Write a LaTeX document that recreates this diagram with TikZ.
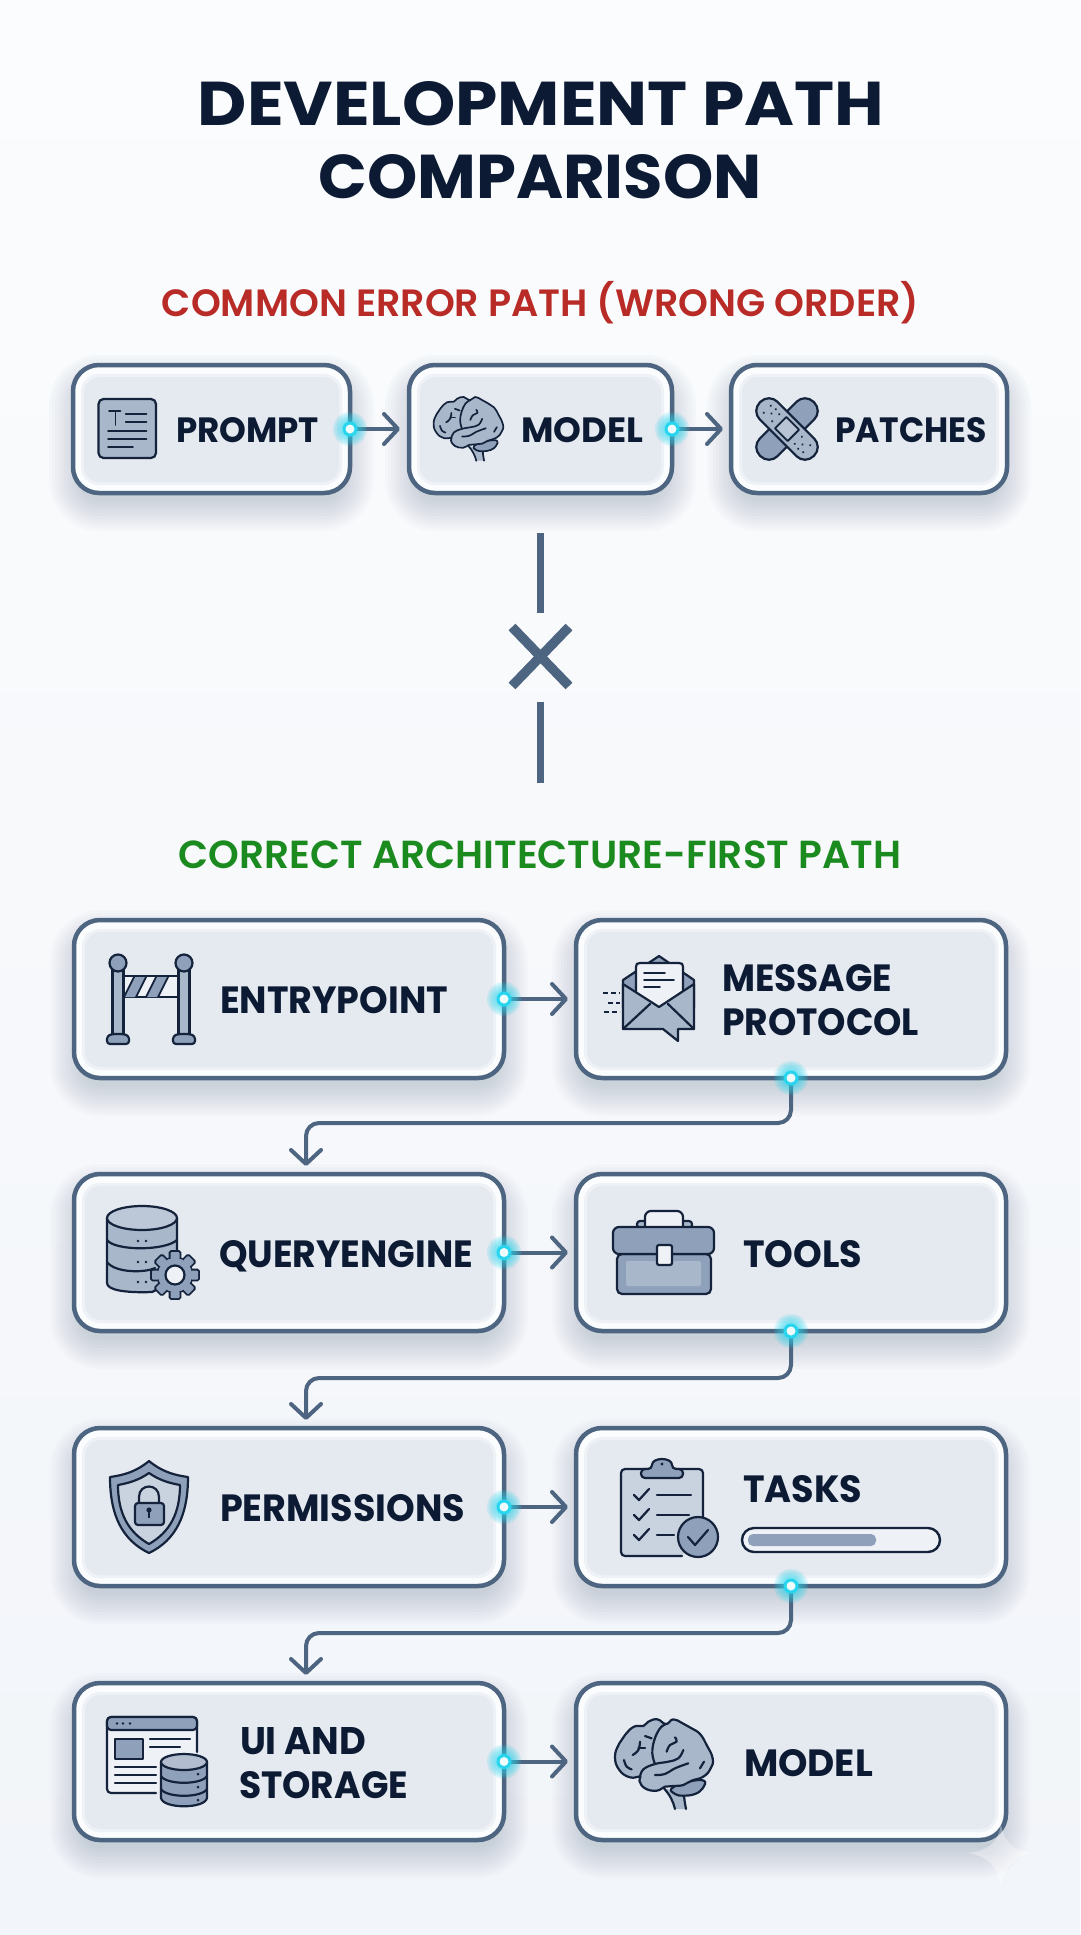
\documentclass[tikz,border=0pt]{standalone}
\usepackage{fontspec}
\usepackage{graphicx}
\setmainfont{Poppins}
\newfontfamily\semi{Poppins}[UprightFont=* SemiBold]
\usetikzlibrary{arrows.meta,calc}
\definecolor{edgec}{HTML}{4D6580}
\definecolor{ink}{HTML}{14233B}
\definecolor{navy}{HTML}{0C1B33}
\definecolor{iconA}{HTML}{8FA1BA}
\definecolor{iconB}{HTML}{A9B7CB}
\definecolor{iconC}{HTML}{C9D2DF}
\definecolor{ringc}{HTML}{FAFCFE}
\definecolor{panelc}{HTML}{E5E9F0}
\definecolor{panelm}{HTML}{EEF1F6}
\definecolor{glowc}{HTML}{27D6EE}
\definecolor{redt}{HTML}{B92B27}
\definecolor{greent}{HTML}{1B8A1F}
\definecolor{bgtop}{HTML}{FBFCFD}
\definecolor{bgmid}{HTML}{FEFEFF}
\definecolor{bgbot}{HTML}{F2F5F9}
\tikzset{
  card/.style={draw=edgec,line width=4.5pt,fill=ringc,rounded corners=26pt,inner sep=0pt,outer sep=0pt},
  lab/.style={inner sep=0pt,outer sep=0pt,text=navy,font=\bfseries,anchor=base west},
  ttl/.style={inner sep=0pt,outer sep=0pt,text=navy,font=\bfseries,anchor=base},
  hd/.style={inner sep=0pt,outer sep=0pt,font=\semi,anchor=base},
  conn/.style={draw=edgec,line width=4pt,rounded corners=13pt,-{Straight Barb[round,length=14pt,width=30pt,line width=4pt]}},
  ic/.style={draw=ink,line width=2.2pt,line join=round,line cap=round},
  icthin/.style={ic,line width=1.8pt},
  xline/.style={draw=edgec,line width=7pt},
  xcross/.style={draw=edgec,line width=9.5pt},
}
\newcommand{\fitw}[2]{\resizebox{#1pt}{!}{#2}}
\newcommand{\fitwh}[3]{\resizebox{#1pt}{#2pt}{#3}}
\newcommand{\cardbox}[5]{%
  \pgfmathsetmacro\cw{#4-#2}\pgfmathsetmacro\ch{#5-#3}%
  \pgfmathsetmacro\cx{(#2+#4)/2}\pgfmathsetmacro\cy{(#3+#5)/2}%
  \foreach \s in {24,21,...,-6}{%
    \pgfmathsetmacro\rr{26+\s}%
    \fill[edgec,opacity=.022,rounded corners=\rr pt] (#2-\s,#3+14-\s) rectangle (#4+\s,#5+14+\s);}%
  \node[card,minimum width=\cw pt,minimum height=\ch pt] (#1) at (\cx,\cy) {};
  \fill[panelm,rounded corners=18pt] (#2+8,#3+9) rectangle (#4-8,#5-8);
  \fill[panelc,rounded corners=16pt] (#2+11,#3+12) rectangle (#4-11,#5-11);
}
\newcommand{\glowdot}[1]{%
  \foreach \r in {17,15,13,11,9}{\fill[glowc,opacity=.16] (#1) circle (\r pt);}%
  \fill[glowc] (#1) circle (7.5pt);
  \fill[white!92!glowc] (#1) circle (4.5pt);
}
\newcommand{\brainicon}[4]{% x y scale linewidth
 \begin{scope}[shift={(#1,#2)},x=#3pt,y=-#3pt]
  \path[fill=iconB] (312,385) .. controls (330,405) and (340,425) .. (345,447) -- (378,447) .. controls (375,430) and (372,415) .. (372,400) -- cycle;
  \draw[ic,line width=#4pt] (312,385) .. controls (330,405) and (340,425) .. (345,447);
  \draw[ic,line width=#4pt] (378,447) .. controls (375,430) and (372,415) .. (372,400);
  \draw[ic,line width=#4pt,fill=iconA] plot[smooth cycle,tension=.7] coordinates {(335,385)(385,365)(432,362)(428,385)(405,402)(370,407)(345,402)};
  \draw[ic,line width=#4pt,fill=iconB] plot[smooth cycle,tension=.8] coordinates {(318,192)(340,178)(368,190)(395,205)(420,222)(440,255)(458,295)(452,325)(430,350)(395,362)(370,375)(340,378)(315,380)(290,392)(255,385)(238,362)(240,350)(210,352)(178,330)(165,290)(178,250)(195,225)(222,200)(250,198)(265,185)(292,178)};
  \draw[ic,line width=#4pt] plot[smooth,tension=.7] coordinates {(318,192)(300,205)(283,240)(277,280)(285,312)};
  \draw[ic,line width=#4pt] plot[smooth,tension=.7] coordinates {(240,352)(250,328)(285,312)(325,305)(355,295)(370,270)};
  \draw[ic,line width=#4pt] plot[smooth,tension=.7] coordinates {(285,345)(315,342)(345,325)(385,310)};
  \draw[ic,line width=#4pt] plot[smooth,tension=.7] coordinates {(345,232)(350,245)(330,255)(320,275)};
  \draw[ic,line width=#4pt] plot[smooth,tension=.7] coordinates {(240,245)(235,270)(218,285)};
  \draw[ic,line width=#4pt] (235,265) -- (255,265);
  \draw[ic,line width=#4pt] (255,228) -- (275,235);
  \draw[ic,line width=#4pt] plot[smooth,tension=.7] coordinates {(192,300)(200,320)(215,328)};
  \draw[ic,line width=#4pt] (420,325) -- (432,305);
 \end{scope}}
\begin{document}
\begin{tikzpicture}[x=1pt,y=-1pt]
\useasboundingbox (0,0) rectangle (1080,1935);
\shade[top color=bgtop,middle color=bgmid,bottom color=bgbot] (0,0) rectangle (1080,1935);

% titles
\node[ttl] (title1) at (541,125) {\fitwh{686}{44}{DEVELOPMENT PATH}};
\node[ttl] (title2) at (540,198) {\fitwh{443}{44}{COMPARISON}};
\node[hd,text=redt] (head1) at (540.5,316) {\fitw{757}{COMMON ERROR PATH (WRONG ORDER)}};
\node[hd,text=greent] (head2) at (540,868) {\fitw{722}{CORRECT ARCHITECTURE-FIRST PATH}};

% cards
\cardbox{prompt}{73}{365}{350}{493}
\cardbox{modela}{409}{365}{672}{493}
\cardbox{patches}{731}{365}{1007}{493}
\cardbox{entry}{74}{920}{504}{1078}
\cardbox{msg}{576}{920}{1006}{1078}
\cardbox{query}{74}{1174}{504}{1331}
\cardbox{tools}{576}{1174}{1006}{1331}
\cardbox{perm}{74}{1428}{504}{1586}
\cardbox{tasks}{576}{1428}{1006}{1586}
\cardbox{uist}{74}{1683}{504}{1840}
\cardbox{modelb}{576}{1683}{1006}{1840}

% entry coordinates for the bent connectors
\coordinate (queryin) at (306,1174);
\coordinate (permin) at (306,1428);
\coordinate (uiin) at (306,1683);

% connectors
\draw[conn,shorten >=9pt] (prompt.east) -- (modela.west);
\draw[conn,shorten >=8pt] (modela.east) -- (patches.west);
\draw[conn,shorten >=8pt] (entry.east) -- (msg.west);
\draw[conn,shorten >=8pt] (query.east) -- (tools.west);
\draw[conn,shorten >=8pt] (perm.east) -- (tasks.west);
\draw[conn,shorten >=8pt] (uist.east) -- (modelb.west);
\draw[conn,shorten >=8pt] (msg.south) -- ++(0,45) -| (queryin);
\draw[conn,shorten >=8pt] (tools.south) -- ++(0,47) -| (permin);
\draw[conn,shorten >=8pt] (tasks.south) -- ++(0,47) -| (uiin);

\glowdot{prompt.east}\glowdot{modela.east}\glowdot{entry.east}\glowdot{query.east}
\glowdot{perm.east}\glowdot{uist.east}\glowdot{msg.south}\glowdot{tools.south}\glowdot{tasks.south}

% X separator
\coordinate (xa) at (540,533); \coordinate (xb) at (540,613);
\coordinate (xc) at (540,702); \coordinate (xd) at (540,783);
\draw[xline] (xa) -- (xb);
\draw[xline] (xc) -- (xd);
\draw[xcross] (512,627) -- (569,686);
\draw[xcross] (569,627) -- (512,686);

% labels
\node[lab] (lprompt) at (176,442) {\fitwh{143}{25}{PROMPT}};
\node[lab] (lmodela) at (521,442) {\fitwh{122}{25}{MODEL}};
\node[lab] (lpatches) at (835,442) {\fitwh{152}{25}{PATCHES}};
\node[lab] (lentry) at (220,1013) {\fitwh{228}{27}{ENTRYPOINT}};
\node[lab] (lmsg1) at (722,991) {\fitwh{170}{27}{MESSAGE}};
\node[lab] (lmsg2) at (722,1035) {\fitwh{197}{27}{PROTOCOL}};
\node[lab] (lquery) at (219,1267) {\fitwh{254}{27}{QUERYENGINE}};
\node[lab] (ltools) at (743,1267) {\fitwh{119}{27}{TOOLS}};
\node[lab] (lperm) at (220,1521) {\fitwh{245}{27}{PERMISSIONS}};
\node[lab] (ltasks) at (743,1502) {\fitwh{119}{27}{TASKS}};
\node[lab] (lui1) at (240,1754) {\fitwh{126}{27}{UI AND}};
\node[lab] (lui2) at (239,1798) {\fitwh{169}{27}{STORAGE}};
\node[lab] (lmodelb) at (744,1776) {\fitwh{129}{27}{MODEL}};

% progress bar
\draw[ink,line width=2.4pt,fill=panelm,rounded corners=12pt] (742,1528) rectangle (940,1552);
\fill[iconA,rounded corners=5pt] (748,1534) rectangle (876,1546);

% icon: prompt
\draw[ic,fill=iconB,rounded corners=5pt] (98.5,399) rectangle (156,458);
\draw[icthin] (109,411) -- (120.5,411) (115.4,411) -- (115.4,425);
\draw[icthin] (125.7,414) -- (146.4,414) (125.7,422) -- (146.4,422) (108,431) -- (146.4,431) (108,439) -- (146.4,439) (108,447) -- (133,447);

% icon: brains
\brainicon{394.5}{354.8}{0.237}{1.7}
\brainicon{560}{1660}{0.3333}{2.2}

% icon: bandage
\begin{scope}[shift={(787,429)},rotate=45]
  \draw[ic,fill=iconA,rounded corners=12pt] (-38,-12.5) rectangle (38,12.5);
\end{scope}
\begin{scope}[shift={(787,429)},rotate=-45]
  \draw[ic,fill=iconB,rounded corners=12pt] (-38,-12.5) rectangle (38,12.5);
  \draw[icthin,fill=iconC!70!iconA] (-9,-8) rectangle (9,8);
  \foreach \a/\b in {-28/-5,-22/0,-16/5,-28/5,-16/-5,-22/-6,22/0,16/5,28/5,16/-5,28/-5,22/6}{\fill[ink] (\a,\b) circle (1.2pt);}
\end{scope}

% icon: barrier
\foreach \xx in {118,184}{
  \draw[ic,fill=iconB] (\xx-5.5,970) rectangle (\xx+5.5,1036);
  \draw[ic,fill=iconA] (\xx,963) circle (8.5pt);
  \draw[ic,fill=iconA,rounded corners=3pt] (\xx-11,1044) -- (\xx-11,1036) -- (\xx-6,1034) -- (\xx+6,1034) -- (\xx+11,1036) -- (\xx+11,1044) -- cycle;
}
\draw[ic,fill=panelm] (124,976) rectangle (178,997);
\fill[iconA] (124,997) -- (134,977) -- (146,977) -- (136,997) -- cycle;
\fill[iconA] (146,997) -- (156,977) -- (168,977) -- (158,997) -- cycle;
\draw[icthin] (124,997) -- (134,977) (136,997) -- (146,977) (146,997) -- (156,977) (158,997) -- (168,977);

% icon: envelope
\draw[ic,fill=iconA] (623,980) -- (659,956) -- (694,980) -- (694,1008) -- (623,1008) -- cycle;
\draw[ic,fill=panelm] (636,1010) -- (636,967) .. controls (636,964) and (637,963) .. (640,963) -- (679,963) .. controls (682,963) and (683,964) .. (683,967) -- (683,1010) -- cycle;
\draw[icthin] (644,973) -- (665,973) (644,980) -- (674,980) (644,987) -- (660,987);
\draw[ic,fill=iconB] (623,984) -- (659,1007) -- (694,984) -- (694,1029) -- (678,1029) -- (678,1041) -- (663,1029) -- (623,1029) -- cycle;
\draw[ic] (623,1029) -- (650,1004) (694,1029) -- (668,1004);
\draw[icthin,dash pattern=on 5pt off 3pt,line cap=butt] (603,993) -- (620,993) (608,1003) -- (620,1003) (604,1012) -- (620,1012);

% icon: database with gear
\draw[ic,fill=iconB] (107,1218) -- (107,1283) .. controls (107,1290) and (125,1293) .. (152,1292) -- (177,1280) -- (177,1218);
\draw[ic,fill=iconC!60!iconB] (142,1218) ellipse (35pt and 12pt);
\draw[ic] (107,1240) .. controls (115,1251) and (165,1251) .. (177,1240);
\draw[ic] (107,1262) .. controls (115,1273) and (145,1273) .. (155,1268);
\foreach \yy in {1241,1262,1282}{\fill[ink] (138,\yy) circle (1.3pt) (146,\yy) circle (1.3pt);}
\begin{scope}[shift={(175,1275)}]
  \foreach \a in {0,45,...,315}{\draw[ink,line width=3.6pt,rotate=\a,rounded corners=1pt] (17,-4.5) rectangle (23,4.5);}
  \fill[ink] circle (18.5pt);
  \foreach \a in {0,45,...,315}{\fill[iconA,rotate=\a,rounded corners=1pt] (16,-4.5) rectangle (23,4.5);}
  \fill[iconA] circle (17pt);
  \draw[ic,fill=panelm,line width=2.2pt] circle (9.5pt);
\end{scope}

% icon: toolbox
\draw[ic,fill=iconB,rounded corners=3pt] (637,1228) rectangle (692,1221);
\draw[ic,fill=panelm,rounded corners=6pt] (645,1230) -- (645,1211) -- (683,1211) -- (683,1230);
\draw[ic,fill=iconA,rounded corners=5pt] (617,1254) -- (617,1294) -- (711,1294) -- (711,1254) -- cycle;
\fill[iconB,rounded corners=2pt] (626,1261) rectangle (701,1286);
\draw[ic,fill=iconA,rounded corners=6pt] (613,1254) -- (613,1227) -- (714,1227) -- (714,1254) -- cycle;
\draw[ic,fill=panelm,rounded corners=2pt] (657,1245) rectangle (672,1265);

% icon: shield
\draw[ic,fill=iconA] (149,1461) .. controls (137,1471) and (125,1475) .. (110,1477) .. controls (110,1515) and (122,1540) .. (149,1553) .. controls (176,1540) and (188,1515) .. (188,1477) .. controls (173,1475) and (161,1471) .. (149,1461) -- cycle;
\draw[ic,fill=iconC] (149,1473) .. controls (139,1480) and (129,1483) .. (118,1485) .. controls (118,1513) and (128,1532) .. (149,1544) .. controls (170,1532) and (180,1513) .. (180,1485) .. controls (169,1483) and (159,1480) .. (149,1473) -- cycle;
\draw[ic] (139,1503) -- (139,1497) .. controls (139,1483) and (159,1483) .. (159,1497) -- (159,1503);
\draw[ic,fill=iconA,rounded corners=3pt] (135,1503) rectangle (164,1525);
\fill[ink] (149,1510) circle (2.6pt);
\draw[ink,line width=1.8pt] (149,1510) -- (149,1518);

% icon: clipboard
\draw[ic,fill=iconC,rounded corners=4pt] (682,1556) -- (621,1556) -- (621,1469) -- (703,1469) -- (703,1525);
\draw[ic,fill=iconA,rounded corners=4pt] (641,1478) -- (641,1469) -- (652,1469) .. controls (652,1457) and (672,1457) .. (672,1469) -- (683,1469) -- (683,1478) -- cycle;
\fill[ink] (662,1464) circle (1.6pt);
\foreach \yy in {1495,1515,1535}{\draw[ic] (634,\yy) -- (639,\yy+5) -- (649,\yy-6);}
\draw[ic] (657,1495) -- (691,1495) (657,1515) -- (689,1515) (657,1535) -- (674,1535);
\draw[ic,fill=iconA] (698,1537) circle (20pt);
\draw[ic] (688,1537) -- (695,1545) -- (708,1530);

% icon: UI window
\draw[ic,fill=panelm,rounded corners=4pt] (156,1793) -- (107,1793) -- (107,1717) -- (197,1717) -- (197,1752);
\draw[ic,fill=iconA,rounded corners=4pt] (107,1730) -- (107,1717) -- (197,1717) -- (197,1730) -- cycle;
\foreach \xx in {117,123,130}{\fill[ink] (\xx,1723.5) circle (1.3pt);}
\draw[ic,fill=iconA] (115,1739) rectangle (143,1759);
\draw[ic] (150,1739) -- (190,1739) (150,1747) -- (180,1747) (115,1767) -- (156,1767) (115,1775) -- (156,1775) (115,1783) -- (156,1783);
% icon: small database
\draw[ic,fill=iconA] (161,1762) -- (161,1798) .. controls (163,1809) and (205,1809) .. (207,1798) -- (207,1762);
\draw[ic,fill=iconC!60!iconA] (184,1762) ellipse (23pt and 8pt);
\draw[ic] (161,1776) .. controls (166,1785) and (202,1785) .. (207,1776);
\draw[ic] (161,1789) .. controls (166,1798) and (202,1798) .. (207,1789);
\foreach \yy in {1774,1787,1800}{\fill[ink] (198,\yy) circle (1.5pt);}

% faint sparkle mark
\fill[white,opacity=.35] (1001,1824) .. controls (1004,1843) and (1014,1851) .. (1033,1853) .. controls (1014,1856) and (1004,1866) .. (1001,1888) .. controls (998,1866) and (988,1856) .. (967,1853) .. controls (988,1851) and (998,1843) .. (1001,1824) -- cycle;
\end{tikzpicture}
\end{document}
